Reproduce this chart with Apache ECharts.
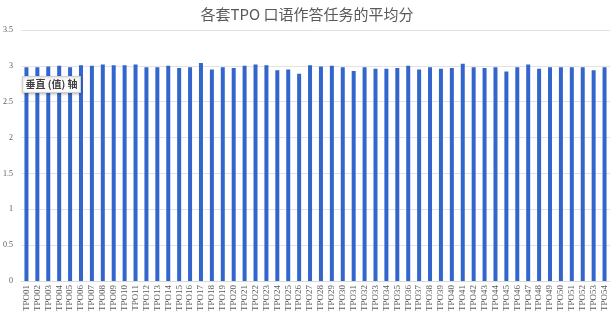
<!DOCTYPE html>
<html><head><meta charset="utf-8">
<script src="https://cdn.jsdelivr.net/npm/echarts@6/dist/echarts.min.js"></script>
<style>html,body{margin:0;padding:0;background:#fff}#c{width:614px;height:315px}</style>
</head><body><div id="c"></div>
<script>
var titleText = '各套TPO 口语作答任务的平均分';
var categories = [];
for (var i = 1; i <= 54; i++) categories.push('TPO' + (i < 10 ? '0' + i : '' + i));
var scores = [2.98,2.98,2.99,3.00,2.98,3.01,3.00,3.02,3.01,3.01,3.02,2.98,2.98,
  3.00,2.97,2.98,3.04,2.95,2.98,2.97,3.00,3.02,3.01,2.94,2.95,2.89,3.01,
  2.99,3.00,2.98,2.93,2.98,2.96,2.96,2.97,3.00,2.95,2.98,2.96,2.97,
  3.03,2.98,2.97,2.98,2.92,2.98,3.02,2.96,2.98,2.98,2.98,2.98,2.94,2.98];
var axisTag = '垂直 (值) 轴';

var chart = echarts.init(document.getElementById('c'));
chart.setOption({
  animation: false,
  title: {text: titleText, left: 'center', top: 2,
    textStyle: {fontSize: 15, fontWeight: 'normal', color: '#595959', fontFamily: 'Noto Sans CJK SC'}},
  grid: {left: 20, right: 4, top: 30, bottom: 34},
  xAxis: {type: 'category', data: categories,
    axisLine: {lineStyle: {color: '#d9d9d9'}}, axisTick: {show: false},
    axisLabel: {rotate: 90, interval: 0, fontSize: 9, color: '#595959', fontFamily: 'Liberation Serif', margin: 4}},
  yAxis: {type: 'value', min: 0, max: 3.5, interval: 0.5,
    axisLabel: {fontSize: 8, color: '#595959', fontFamily: 'Liberation Serif', margin: 8},
    splitLine: {lineStyle: {color: '#e3e3e3'}}},
  series: [{type: 'bar', data: scores, barWidth: 4, itemStyle: {color: '#3366cc'}}],
  graphic: [{type: 'group', left: 22, top: 76, z: 100, children: [
    {type: 'rect', shape: {x: 0, y: 0, width: 58, height: 16}, z: 100,
      style: {fill: '#fff', stroke: '#d0d0d0', lineWidth: 1, shadowColor: 'rgba(0,0,0,0.25)', shadowBlur: 3, shadowOffsetY: 1}},
    {type: 'text', x: 29, y: 8, z: 101,
      style: {text: axisTag, fontSize: 10, fontWeight: 'bold', fill: '#404040', fontFamily: 'Noto Sans CJK SC',
        align: 'center', verticalAlign: 'middle'}}]}]
});
</script></body></html>
